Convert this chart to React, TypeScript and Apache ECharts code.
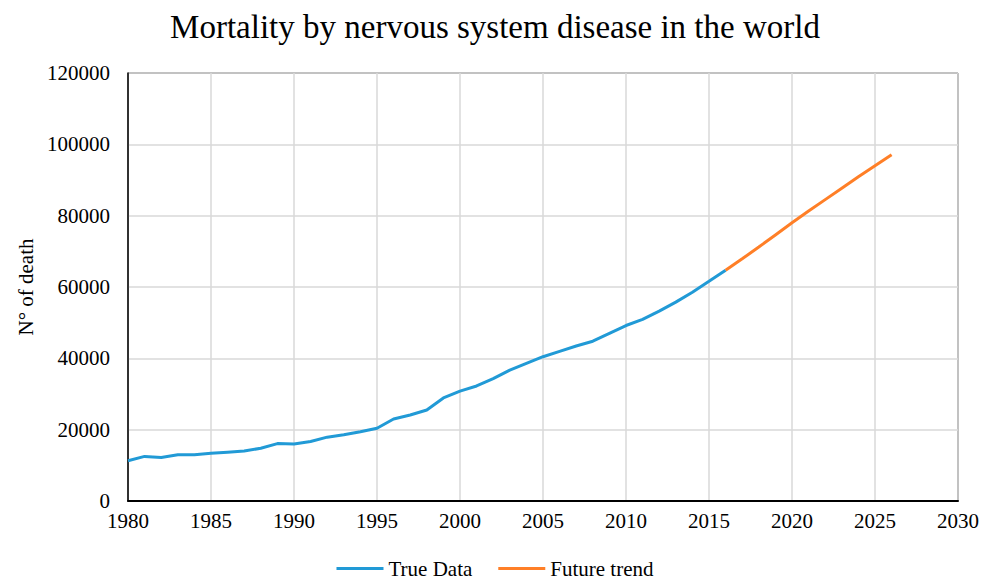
import React, { useEffect, useRef } from "react";
import * as echarts from "echarts";

const trueYears = [1980,1981,1982,1983,1984,1985,1986,1987,1988,1989,1990,1991,1992,1993,1994,1995,1996,1997,1998,1999,2000,2001,2002,2003,2004,2005,2006,2007,2008,2009,2010,2011,2012,2013,2014,2015,2016];
const trueValues = [11300,12500,12200,12950,12950,13400,13700,14000,14800,16100,16000,16700,17900,18550,19400,20400,23000,24100,25500,28900,30800,32250,34300,36700,38600,40450,41950,43450,44800,47000,49200,50900,53250,55750,58550,61600,64700];
const futureYears = [2016,2017,2018,2019,2020,2021,2022,2023,2024,2025,2026];
const futureValues = [64700,67900,71200,74600,78000,81300,84500,87700,90900,94000,97100];
const xTicks = { min: 1980, max: 2030, interval: 5 };
const yTicks = { min: 0, max: 120000, interval: 20000 };

const FONT = "'Liberation Serif', 'Times New Roman', serif";

export default function App() {
  const ref = useRef<HTMLDivElement>(null);
  useEffect(() => {
    if (!ref.current) return;
    const chart = echarts.init(ref.current, undefined, { renderer: "svg" });
    chart.setOption({
      animation: false,
      backgroundColor: "#ffffff",
      textStyle: { fontFamily: FONT },
      title: {
        text: "Mortality by nervous system disease in the world",
        left: "center",
        top: 5,
        textStyle: { fontFamily: FONT, fontSize: 33, fontWeight: "normal", color: "#000" },
      },
      legend: {
        top: 553,
        left: "center",
        icon: "rect",
        itemWidth: 47,
        itemHeight: 3,
        itemGap: 26,
        textStyle: { fontFamily: FONT, fontSize: 21, color: "#000" },
        data: ["True Data", "Future trend"],
      },
      grid: {
        left: 128,
        right: 32,
        top: 73,
        bottom: 80,
        show: true,
        borderColor: "#000",
        borderWidth: 1,
      },
      xAxis: {
        type: "value",
        min: xTicks.min,
        max: xTicks.max,
        interval: xTicks.interval,
        axisLine: { show: true, lineStyle: { color: "#000", width: 2 } },
        axisTick: { show: false },
        axisLabel: { fontFamily: FONT, fontSize: 21, color: "#000", margin: 9, formatter: (v: number) => String(v) },
        splitLine: { show: true, lineStyle: { color: "#d9d9d9", width: 1.5 } },
      },
      yAxis: {
        type: "value",
        min: yTicks.min,
        max: yTicks.max,
        interval: yTicks.interval,
        name: "N° of death",
        nameLocation: "middle",
        nameGap: 92,
        nameRotate: 90,
        nameTextStyle: { fontFamily: FONT, fontSize: 21, color: "#000" },
        axisLine: { show: true, lineStyle: { color: "#000", width: 1.5 } },
        axisTick: { show: false },
        axisLabel: { fontFamily: FONT, fontSize: 21, color: "#000", margin: 18, formatter: (v: number) => String(v) },
        splitLine: { show: true, lineStyle: { color: "#d9d9d9", width: 1.5 } },
      },
      series: [
        {
          name: "True Data",
          type: "line",
          data: trueYears.map((y, i) => [y, trueValues[i]]),
          showSymbol: false,
          symbol: "none",
          lineStyle: { color: "#219ad6", width: 3 },
          itemStyle: { color: "#219ad6" },
        },
        {
          name: "Future trend",
          type: "line",
          data: futureYears.map((y, i) => [y, futureValues[i]]),
          showSymbol: false,
          symbol: "none",
          lineStyle: { color: "#ff7f27", width: 3 },
          itemStyle: { color: "#ff7f27" },
        },
      ],
    });
    return () => chart.dispose();
  }, []);
  return <div ref={ref} style={{ width: 990, height: 581, position: "absolute", left: 0, top: 0 }} />;
}
